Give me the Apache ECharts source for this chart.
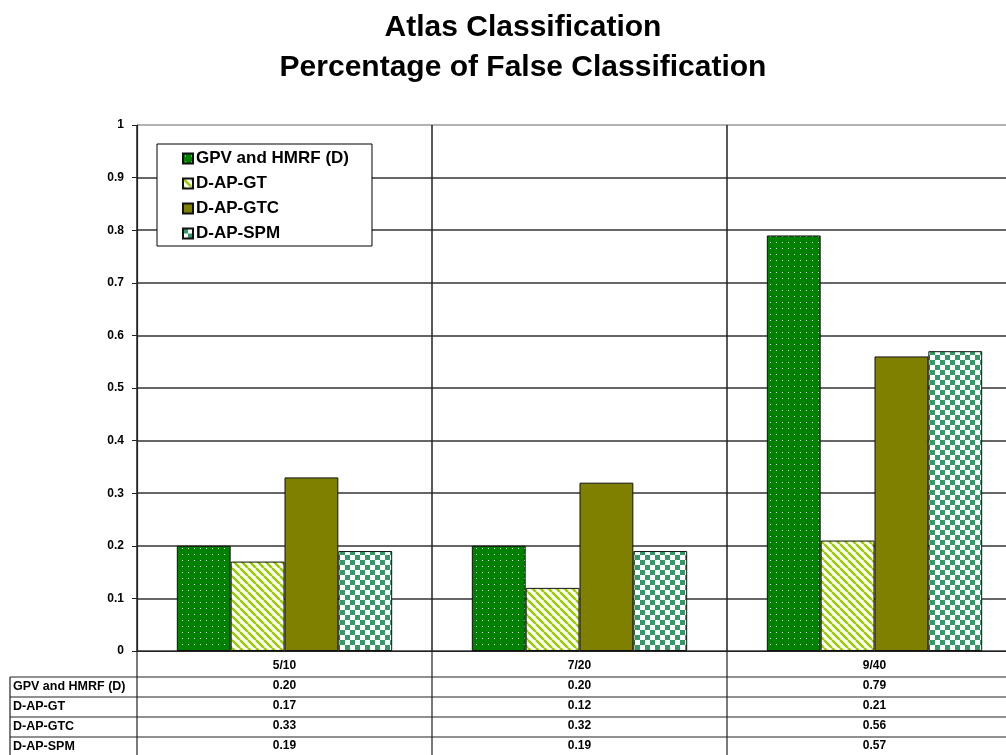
<!DOCTYPE html>
<html>
<head>
<meta charset="utf-8">
<title>Atlas Classification</title>
<script src="https://cdn.jsdelivr.net/npm/echarts@6/dist/echarts.min.js"></script>
<style>
  html, body { margin: 0; padding: 0; background: #fff; }
  #chart { width: 1006px; height: 755px; }
</style>
</head>
<body>
<div id="chart"></div>
<script>
// Atlas classification: share of falsely classified samples per setting
const categories = ['5/10', '7/20', '9/40'];
const seriesNames = ['GPV and HMRF (D)', 'D-AP-GT', 'D-AP-GTC', 'D-AP-SPM'];
const gpvHmrf = [0.20, 0.20, 0.79];
const dApGt   = [0.17, 0.12, 0.21];
const dApGtc  = [0.33, 0.32, 0.56];
const dApSpm  = [0.19, 0.19, 0.57];
const yTicks  = [0, 0.1, 0.2, 0.3, 0.4, 0.5, 0.6, 0.7, 0.8, 0.9, 1];

const seriesValues = [gpvHmrf, dApGt, dApGtc, dApSpm];

// Fill patterns for the bars
function makeTile(w, h, draw) {
  const c = document.createElement('canvas');
  c.width = w; c.height = h;
  draw(c.getContext('2d'), w, h);
  return { image: c, repeat: 'repeat' };
}
const dotted = makeTile(6, 6, (g, w, h) => {
  g.fillStyle = '#008000'; g.fillRect(0, 0, w, h);
  g.fillStyle = '#cfeccf'; g.fillRect(2, 2, 1, 1);
});
const striped = makeTile(8, 8, (g, w, h) => {
  g.fillStyle = '#ffffff'; g.fillRect(0, 0, w, h);
  g.strokeStyle = '#99cc00'; g.lineWidth = 2.6;
  for (let k = -1; k <= 1; k++) {
    g.beginPath(); g.moveTo(k * w, 0); g.lineTo(k * w + w, h); g.stroke();
  }
});
const checker = makeTile(10, 10, (g, w, h) => {
  g.fillStyle = '#ffffff'; g.fillRect(0, 0, w, h);
  g.fillStyle = '#339966';
  g.fillRect(0, 0, 5, 5); g.fillRect(5, 5, 5, 5);
});
const fills = [dotted, striped, '#808000', checker];

const FONT = '"Liberation Sans", Arial, sans-serif';
const G = { left: 137, top: 125, width: 885, height: 526, outerBoundsMode: 'none', containLabel: false };
const ROW_H = 20;
const tableTop = G.top + G.height + 26;   // first row border under the category labels
const tableBottom = 755 + 2;

const chart = echarts.init(document.getElementById('chart'), null, { renderer: 'canvas' });

// Table lines and row labels under the plot
const graphics = [];
const line = (x1, y1, x2, y2) => graphics.push({
  type: 'line', silent: true,
  shape: { x1, y1, x2, y2 },
  style: { stroke: '#222', lineWidth: 1.2 }
});
for (let r = 0; r <= seriesNames.length; r++) {
  const y = tableTop + r * ROW_H;
  line(10, y, G.left + G.width, y);
}
line(10, tableTop, 10, tableBottom);
for (let i = 0; i <= categories.length; i++) {
  const x = G.left + i * G.width / categories.length;
  line(x, G.top + G.height, x, tableBottom);
}
seriesNames.forEach((name, r) => {
  graphics.push({
    type: 'text', silent: true,
    left: 13, top: tableTop + r * ROW_H + 3,
    style: { text: name, font: 'bold 12.5px ' + FONT, fill: '#000' }
  });
});

chart.setOption({
  backgroundColor: '#ffffff',
  animation: false,
  title: {
    text: 'Atlas Classification\nPercentage of False Classification',
    left: 518,
    textAlign: 'center',
    top: 3,
    textStyle: { fontFamily: FONT, fontWeight: 'bold', fontSize: 30, lineHeight: 40, color: '#000' }
  },
  legend: {
    orient: 'vertical',
    left: 157, top: 144,
    backgroundColor: '#fff',
    borderColor: '#000', borderWidth: 1,
    padding: [5, 23, 3, 25],
    itemWidth: 10, itemHeight: 10, itemGap: 6,
    icon: 'rect',
    textStyle: { fontFamily: FONT, fontWeight: 'bold', fontSize: 17, lineHeight: 19, color: '#000', padding: [0, 0, 0, -2] },
    data: seriesNames
  },
  grid: G,
  xAxis: {
    type: 'category',
    data: categories,
    axisLine: { lineStyle: { color: '#222', width: 1.2 } },
    axisTick: { show: false },
    splitLine: { show: true, interval: 0, lineStyle: { color: '#222', width: 1.5 } },
    axisLabel: {
      interval: 0, margin: 5,
      fontFamily: FONT, fontWeight: 'bold', fontSize: 12, lineHeight: ROW_H, color: '#000',
      formatter: (v, idx) => [v].concat(seriesValues.map(s => s[idx].toFixed(2))).join('\n')
    }
  },
  yAxis: {
    type: 'value',
    min: 0, max: 1, interval: 0.1,
    axisLine: { show: true, lineStyle: { color: '#222', width: 1.2 } },
    axisTick: { show: true, length: 5, lineStyle: { color: '#222' } },
    axisLabel: {
      margin: 13, fontFamily: FONT, fontWeight: 'bold', fontSize: 12, color: '#000',
      formatter: v => String(yTicks.find(t => Math.abs(t - v) < 1e-9) ?? v)
    },
    splitLine: {
      lineStyle: {
        color: ['#333', '#333', '#333', '#333', '#333', '#333', '#333', '#333', '#333', '#333', '#9a9a9a'],
        width: 1.5
      }
    }
  },
  series: seriesNames.map((name, i) => ({
    name,
    type: 'bar',
    data: seriesValues[i],
    barGap: '0%',
    barCategoryGap: '27%',
    itemStyle: { color: fills[i], borderColor: '#111', borderWidth: 1 }
  })),
  graphic: graphics
});
</script>
</body>
</html>
